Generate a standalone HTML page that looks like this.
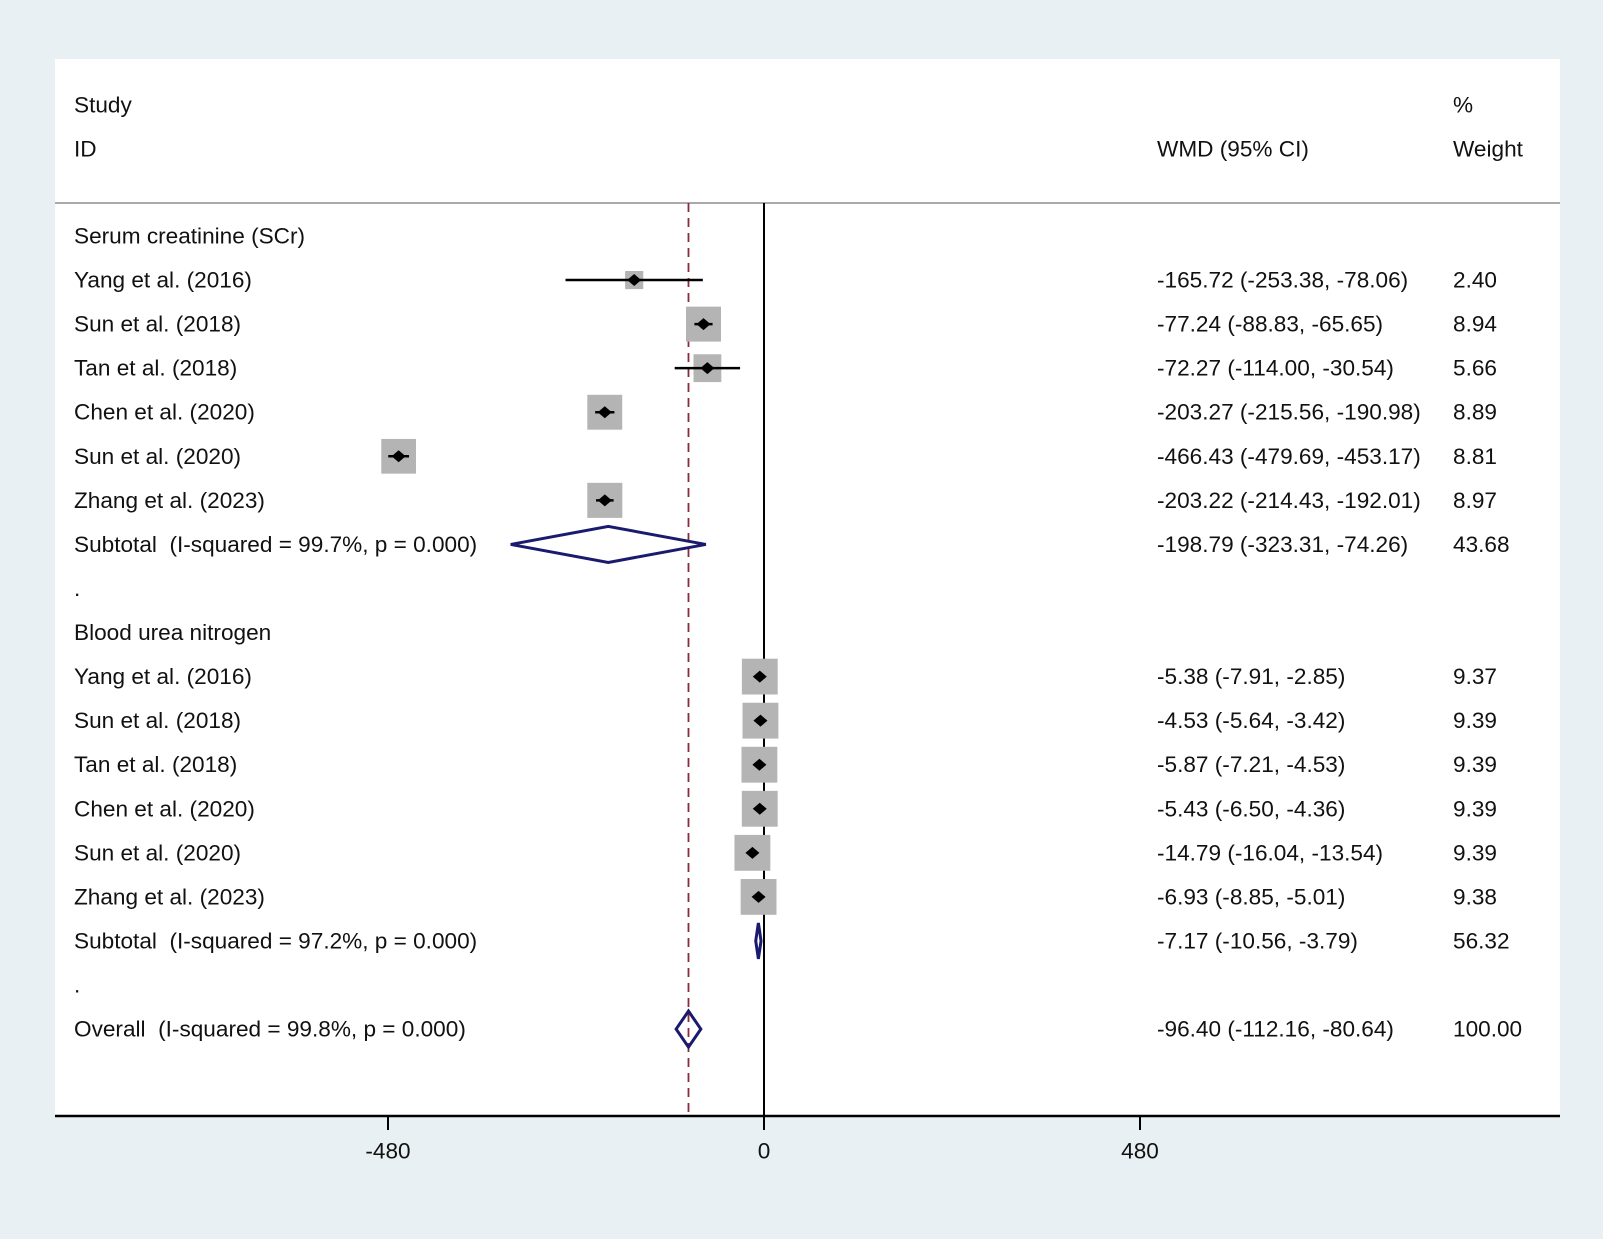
<!DOCTYPE html>
<html><head><meta charset="utf-8"><style>
html,body{margin:0;padding:0;background:#e8f0f3;}
svg{display:block;font-family:"Liberation Sans",Arial,sans-serif;}
text{white-space:pre;}
</style></head><body>
<svg id="chart" width="1603" height="1239" viewBox="0 0 1603 1239" xmlns="http://www.w3.org/2000/svg" xml:space="preserve">
<rect x="0" y="0" width="1603" height="1239" fill="#e8f0f3"/>
<rect x="55" y="59" width="1505" height="1057" fill="#ffffff"/>
<g id="g" font-size="22.6" fill="#111"></g>
</svg>
<script>
const labels = ["Serum creatinine (SCr)","Yang et al. (2016)","Sun et al. (2018)","Tan et al. (2018)","Chen et al. (2020)","Sun et al. (2020)","Zhang et al. (2023)","Subtotal  (I-squared = 99.7%, p = 0.000)",".","Blood urea nitrogen","Yang et al. (2016)","Sun et al. (2018)","Tan et al. (2018)","Chen et al. (2020)","Sun et al. (2020)","Zhang et al. (2023)","Subtotal  (I-squared = 97.2%, p = 0.000)",".","Overall  (I-squared = 99.8%, p = 0.000)"];
const kinds = ["h","s","s","s","s","s","s","d","h","h","s","s","s","s","s","s","d","h","d"];
const est = [null,-165.72,-77.24,-72.27,-203.27,-466.43,-203.22,-198.79,null,null,-5.38,-4.53,-5.87,-5.43,-14.79,-6.93,-7.17,null,-96.40];
const lo = [null,-253.38,-88.83,-114.00,-215.56,-479.69,-214.43,-323.31,null,null,-7.91,-5.64,-7.21,-6.50,-16.04,-8.85,-10.56,null,-112.16];
const hi = [null,-78.06,-65.65,-30.54,-190.98,-453.17,-192.01,-74.26,null,null,-2.85,-3.42,-4.53,-4.36,-13.54,-5.01,-3.79,null,-80.64];
const weights = [null,2.40,8.94,5.66,8.89,8.81,8.97,43.68,null,null,9.37,9.39,9.39,9.39,9.39,9.38,56.32,null,100.00];
const ciText = [null,"-165.72 (-253.38, -78.06)","-77.24 (-88.83, -65.65)","-72.27 (-114.00, -30.54)","-203.27 (-215.56, -190.98)","-466.43 (-479.69, -453.17)","-203.22 (-214.43, -192.01)","-198.79 (-323.31, -74.26)",null,null,"-5.38 (-7.91, -2.85)","-4.53 (-5.64, -3.42)","-5.87 (-7.21, -4.53)","-5.43 (-6.50, -4.36)","-14.79 (-16.04, -13.54)","-6.93 (-8.85, -5.01)","-7.17 (-10.56, -3.79)",null,"-96.40 (-112.16, -80.64)"];
const ticks = [-480,0,480];
const overallEst = -96.40;

const NS="http://www.w3.org/2000/svg";
const g=document.getElementById('g');
const xs=v=>764+v*(376/480);
const ys=i=>236+i*44.06;
function mk(t,a,parent){const e=document.createElementNS(NS,t);for(const k in a)e.setAttribute(k,a[k]);(parent||g).appendChild(e);return e;}
function txt(x,y,s,anchor){const e=mk('text',{x:x,y:y,'dominant-baseline':'central','text-anchor':anchor||'start'});e.textContent=s;return e;}

let t;
t=txt(74,105,"Study");


t=txt(74,149,"ID");


t=txt(1157,149,"WMD (95% CI)");


t=txt(1453,105,"%");


t=txt(1453,149,"Weight");


let l=mk('line',{x1:55,x2:1560,y1:203,y2:203,stroke:'#aaa','stroke-width':2});



l=mk('line',{x1:xs(overallEst),x2:xs(overallEst),y1:203,y2:1116,stroke:'#8b2a3a','stroke-width':1.8,'stroke-dasharray':'9,6'});


l=mk('line',{x1:xs(0),x2:xs(0),y1:203,y2:1116,stroke:'#000','stroke-width':2});


l=mk('line',{x1:55,x2:1560,y1:1116,y2:1116,stroke:'#000','stroke-width':2.5});


ticks.forEach(v=>{
  const tk=mk('line',{x1:xs(v),x2:xs(v),y1:1116,y2:1130,stroke:'#000','stroke-width':2});
  
  
  const tl=txt(xs(v),1151,String(v),'middle');
  
  
});

labels.forEach((s,i)=>{
  const y=ys(i);
  const lt=txt(74,y,s);
  
  
  if(ciText[i]){
    const c=txt(1157,y,ciText[i]);
    
    
    const w=txt(1453,y,weights[i].toFixed(2));
    
    
  }
  if(kinds[i]==='s'){
    const side=11.7*Math.sqrt(weights[i]);
    const cx=xs(est[i]);
    const b=mk('rect',{x:cx-side/2,y:y-side/2,width:side,height:side,fill:'#b4b4b4'});
    
    
    const ci=mk('line',{x1:xs(lo[i]),x2:xs(hi[i]),y1:y,y2:y,stroke:'#000','stroke-width':2.5});
    
    
    const p=mk('polygon',{points:`${cx-7},${y} ${cx},${y-6} ${cx+7},${y} ${cx},${y+6}`,fill:'#000'});
    
    
  } else if(kinds[i]==='d'){
    const h=18;
    const d=mk('polygon',{points:`${xs(lo[i])},${y} ${xs(est[i])},${y-h} ${xs(hi[i])},${y} ${xs(est[i])},${y+h}`,fill:'none',stroke:'#1a1a6e','stroke-width':3});
    
    
  }
});
</script>
</body></html>
